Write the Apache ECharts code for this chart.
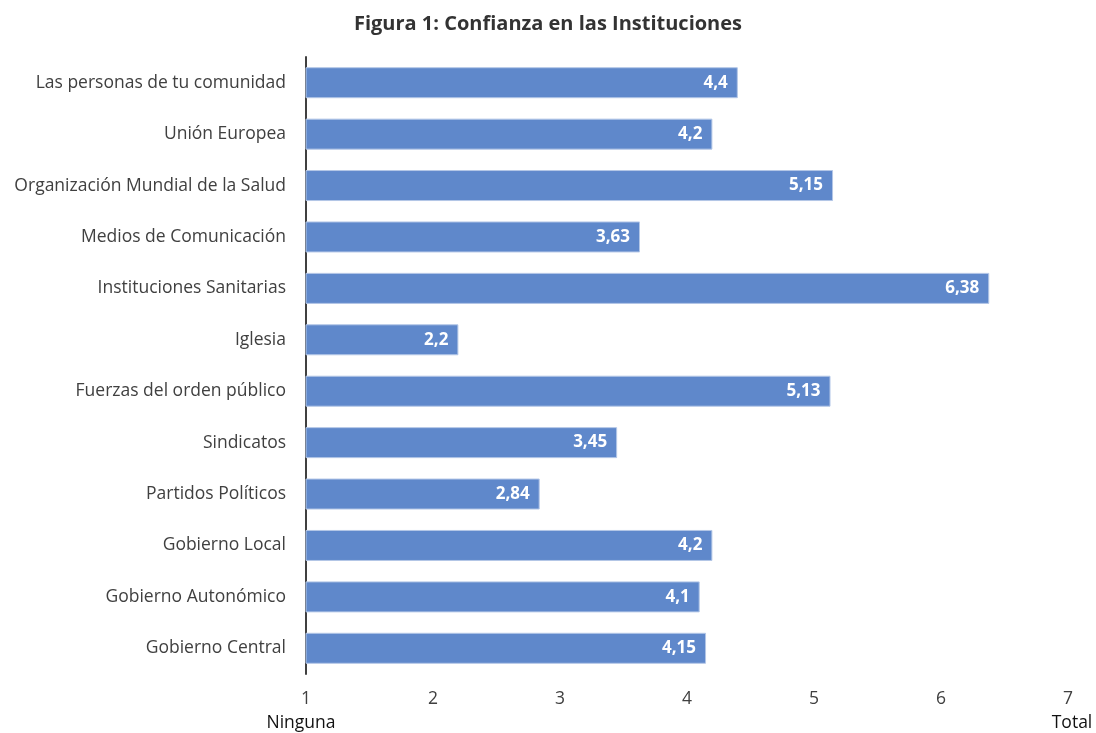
<!DOCTYPE html>
<html>
<head>
<meta charset="utf-8">
<script src="https://cdn.jsdelivr.net/npm/echarts@6/dist/echarts.min.js"></script>
<style>html,body{margin:0;padding:0;background:#fff}#c{width:1096px;height:733px}</style>
</head>
<body>
<div id="c"></div>
<script>
const categories = [
  "Las personas de tu comunidad",
  "Unión Europea",
  "Organización Mundial de la Salud",
  "Medios de Comunicación",
  "Instituciones Sanitarias",
  "Iglesia",
  "Fuerzas del orden público",
  "Sindicatos",
  "Partidos Políticos",
  "Gobierno Local",
  "Gobierno Autonómico",
  "Gobierno Central"
];
const values = [4.4, 4.2, 5.15, 3.63, 6.38, 2.2, 5.13, 3.45, 2.84, 4.2, 4.1, 4.15];
const tickLabels = ["1", "2", "3", "4", "5", "6", "7"];
const endLabels = ["Ninguna", "Total"];
const title = "Figura 1: Confianza en las Instituciones";

const FONT = "Open Sans";
const FS = 17.5;
const chart = echarts.init(document.getElementById('c'));
chart.setOption({
  animation: false,
  title: {
    text: title, left: 'center', top: 9,
    textStyle: { fontFamily: FONT, fontSize: 20, fontWeight: 'bold', color: '#333' }
  },
  grid: { left: 306, right: 28, top: 57, bottom: 59, containLabel: false, outerBoundsMode: 'none' },
  xAxis: {
    type: 'value', min: 1, max: 7, interval: 1,
    axisLine: { show: false }, axisTick: { show: false }, splitLine: { show: false },
    axisLabel: {
      margin: 13,
      fontFamily: FONT, fontSize: FS, color: '#404040', lineHeight: 24,
      formatter: function (v) {
        const i = Math.round(v) - 1;
        const t = tickLabels[i];
        if (i === 0) return t + '\n{n|' + endLabels[0] + '}';
        if (i === tickLabels.length - 1) return t + '\n{t|' + endLabels[1] + '}';
        return t;
      },
      rich: {
        n: { fontFamily: FONT, fontSize: FS, color: '#111', lineHeight: 24, padding: [0, 10, 0, 0] },
        t: { fontFamily: FONT, fontSize: FS, color: '#111', lineHeight: 24, padding: [0, 0, 0, 8] }
      }
    }
  },
  yAxis: {
    type: 'category', data: categories, inverse: true,
    axisLine: { show: true, lineStyle: { color: '#404040', width: 2 } },
    axisTick: { show: false },
    axisLabel: { margin: 20, fontFamily: FONT, fontSize: FS, color: '#404040' }
  },
  series: [{
    type: 'bar', data: values, barWidth: 31,
    itemStyle: { color: '#5F88CB', borderColor: '#B4C7E7', borderWidth: 1 },
    label: {
      show: true, position: 'insideRight', distance: 10,
      fontFamily: FONT, fontSize: 17, fontWeight: 'bold', color: '#fff',
      formatter: function (p) { return String(p.value).replace('.', ','); }
    }
  }]
});
</script>
</body>
</html>
